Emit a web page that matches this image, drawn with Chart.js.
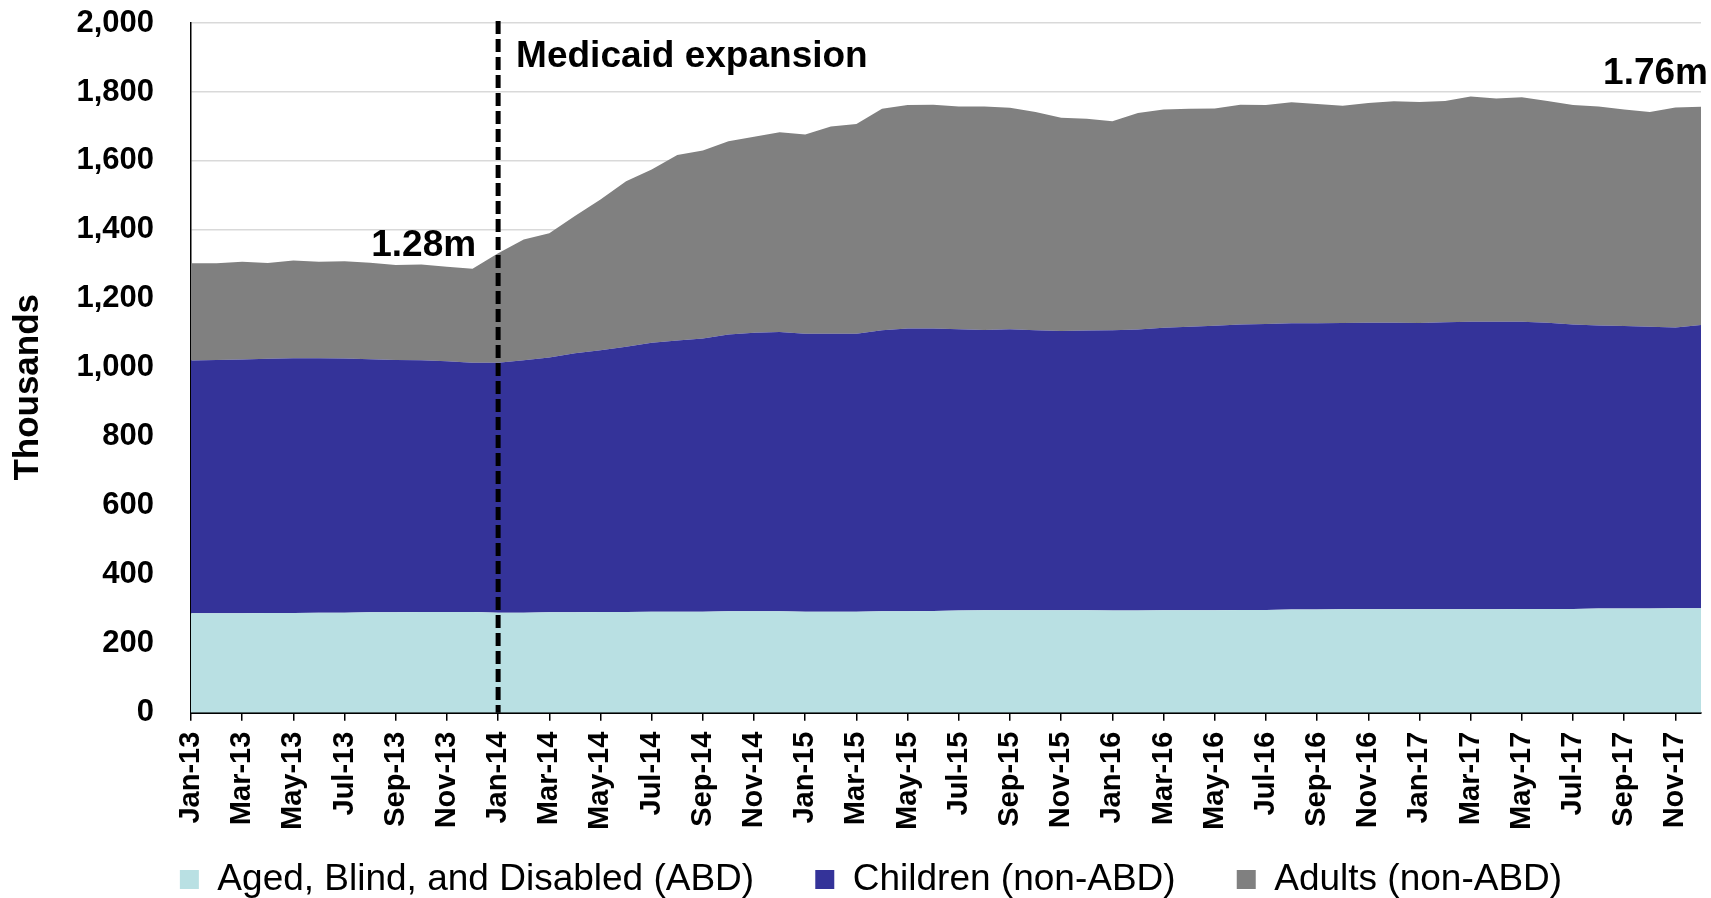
<!DOCTYPE html>
<html>
<head>
<meta charset="utf-8">
<title>Medicaid enrollment</title>
<script src="https://cdn.jsdelivr.net/npm/chart.js@4.4.1/dist/chart.umd.min.js"></script>
<style>
  html, body { margin: 0; padding: 0; background: #fff; }
  canvas { display: block; }
</style>
</head>
<body>
<canvas id="enrollment" width="1711" height="898"></canvas>
<script>
const monthNames = ['Jan', 'Feb', 'Mar', 'Apr', 'May', 'Jun', 'Jul', 'Aug', 'Sep', 'Oct', 'Nov', 'Dec'];
const years = ['13', '14', '15', '16', '17'];
const months = years.flatMap(yr => monthNames.map(m => m + '-' + yr));

// thousands of enrollees, Jan-13 .. Dec-17
const abd = [
    288, 288, 288, 289, 289, 290, 290, 291, 291, 292, 292, 292,
    290, 290, 291, 291, 292, 292, 293, 293, 293, 294, 294, 294,
    293, 293, 293, 294, 294, 295, 296, 297, 297, 297, 297, 297,
    296, 296, 297, 297, 297, 298, 298, 299, 299, 300, 300, 300,
    300, 300, 300, 300, 301, 301, 301, 302, 302, 302, 303, 303
];
const children = [
    733, 735, 736, 737, 739, 738, 737, 734, 732, 730, 727, 723,
    725, 732, 739, 751, 759, 769, 780, 786, 792, 803, 808, 810,
    806, 806, 806, 815, 820, 819, 816, 813, 815, 812, 810, 811,
    813, 815, 819, 822, 825, 828, 829, 830, 830, 830, 831, 831,
    830, 832, 834, 834, 833, 830, 825, 821, 819, 817, 814, 821
];
const adults = [
    282, 280, 284, 278, 283, 280, 282, 280, 275, 278, 274, 272,
    317, 350, 360, 398, 437, 480, 502, 538, 545, 560, 568, 579,
    578, 601, 608, 642, 648, 649, 646, 648, 642, 633, 618, 614,
    606, 628, 633, 632, 630, 637, 635, 641, 636, 630, 637, 642,
    641, 642, 653, 647, 651, 643, 636, 635, 628, 623, 638, 633
];

const expansionMonth = 'Jan-14';
const fontFamily = "'Liberation Sans', Arial, sans-serif";

Chart.defaults.font.family = fontFamily;
Chart.defaults.color = '#000';

const expansionLine = {
    id: 'expansionLine',
    afterDatasetsDraw(chart) {
        const { ctx, chartArea, scales: { x, y } } = chart;
        const lineX = x.getPixelForValue(months.indexOf(expansionMonth));
        ctx.save();
        ctx.strokeStyle = '#000';
        ctx.lineWidth = 5;
        ctx.setLineDash([13, 5]);
        ctx.beginPath();
        ctx.moveTo(lineX, chartArea.top - 2);
        ctx.lineTo(lineX, chartArea.bottom);
        ctx.stroke();
        ctx.setLineDash([]);

        ctx.fillStyle = '#000';
        ctx.font = 'bold 37px ' + fontFamily;
        ctx.textBaseline = 'alphabetic';
        ctx.textAlign = 'left';
        ctx.fillText('Medicaid expansion', lineX + 18, y.getPixelForValue(1872));
        ctx.textAlign = 'right';
        ctx.fillText('1.28m', lineX - 22, y.getPixelForValue(1325));
        ctx.fillText('1.76m', chartArea.right + 7, y.getPixelForValue(1822));
        ctx.restore();
    }
};

const grafico = new Chart(document.getElementById('enrollment').getContext('2d'), {
    type: 'line',
    data: {
        labels: months,
        datasets: [{
                label: 'Aged, Blind, and Disabled (ABD)',
                data: abd,
                fill: 'origin',
                backgroundColor: '#b9e0e3',
                borderColor: '#b9e0e3'
            },
            {
                label: 'Children (non-ABD)',
                data: children,
                fill: '-1',
                backgroundColor: '#343399',
                borderColor: '#343399'
            },
            {
                label: 'Adults (non-ABD)',
                data: adults,
                fill: '-1',
                backgroundColor: '#808080',
                borderColor: '#808080'
            }
        ]
    },
    options: {
        responsive: false,
        animation: false,
        devicePixelRatio: 1,
        layout: {
            padding: { left: 41, right: 10, top: 23, bottom: -10 }
        },
        elements: {
            point: { radius: 0 },
            line: { borderWidth: 0, tension: 0 }
        },
        scales: {
            x: {
                grid: {
                    drawOnChartArea: false,
                    drawTicks: true,
                    tickLength: 8,
                    color: '#000',
                    lineWidth: 1.5
                },
                border: { color: '#000', width: 2 },
                ticks: {
                    autoSkip: true,
                    maxTicksLimit: 30,
                    minRotation: 90,
                    maxRotation: 90,
                    padding: 11,
                    color: '#000',
                    font: { size: 29, weight: 'bold' }
                },
                afterFit: function (scale) {
                    scale.paddingRight = 0;
                }
            },
            y: {
                stacked: true,
                min: 0,
                max: 2000,
                grid: {
                    color: '#d9d9d9',
                    lineWidth: 1.5,
                    drawTicks: false
                },
                border: { color: '#000', width: 1.5 },
                ticks: {
                    stepSize: 200,
                    padding: 37,
                    color: '#000',
                    font: { size: 31, weight: 'bold' },
                    callback: function (value) {
                        return value.toLocaleString('en-US');
                    }
                },
                title: {
                    display: true,
                    // trailing spaces push the word a little below the axis middle, as in the source
                    text: 'Thousands    ',
                    color: '#000',
                    font: { size: 35, weight: 'bold', lineHeight: 0.6 },
                    padding: { top: -23, bottom: 0 }
                },
                afterFit: function (scale) {
                    scale.width = 150;
                    scale.paddingTop = 0;
                }
            }
        },
        plugins: {
            tooltip: { enabled: false },
            legend: {
                position: 'bottom',
                labels: {
                    boxWidth: 19,
                    boxHeight: 19,
                    padding: 20,
                    color: '#000',
                    font: { size: 37 },
                    generateLabels: function (chart) {
                        const items = Chart.defaults.plugins.legend.labels.generateLabels(chart);
                        items.forEach((item, i) => {
                            if (i < items.length - 1) item.text += '    ';
                        });
                        return items;
                    }
                }
            }
        }
    },
    plugins: [expansionLine]
});
</script>
</body>
</html>
